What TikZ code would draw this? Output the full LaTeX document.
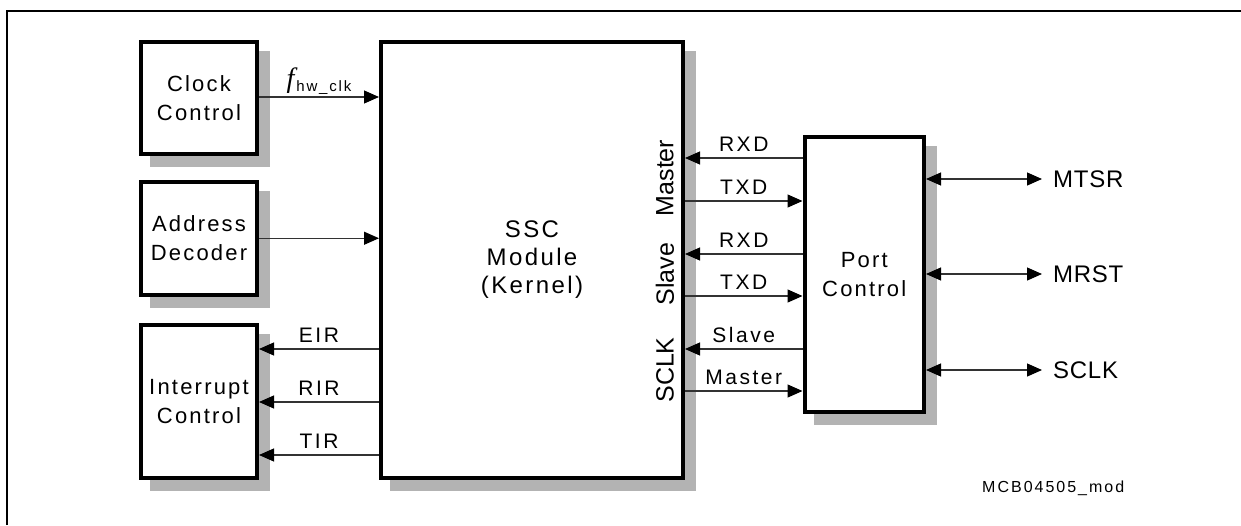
\documentclass[tikz,border=0pt]{standalone}
\usepackage{fontspec}
\setmainfont{Liberation Sans}
\newfontfamily\boxfont{Liberation Sans}[LetterSpace=10]
\newfontfamily\sigfont{Liberation Sans}[LetterSpace=12]
\newfontfamily\pinfont{Liberation Sans}[LetterSpace=3]
\newfontfamily\codefont{Liberation Sans}[LetterSpace=12.5]
\newfontfamily\italfont{Liberation Serif}
\usetikzlibrary{arrows.meta,shadows}
\definecolor{shadowgray}{RGB}{179,179,179}
\definecolor{wiregray}{RGB}{50,50,50}
\begin{document}
\begin{tikzpicture}[x=1pt,y=-1pt,>={Triangle[length=15pt,width=13pt,color=black]},
  blk/.style={draw,line width=4pt,fill=white,inner sep=0pt,align=center,
    font=\boxfont\fontsize{22}{29}\selectfont,
    drop shadow={shadow xshift=11pt,shadow yshift=-11pt,fill=shadowgray,
      draw=shadowgray,line width=4pt,opacity=1}},
  wire/.style={draw=wiregray,line width=1.2pt},
  sig/.style={midway,anchor=base,yshift=7pt,inner sep=0pt,
    font=\sigfont\fontsize{21}{21}\selectfont},
  side/.style={rotate=90,inner sep=0pt,font=\fontsize{25}{25}\selectfont},
  pin/.style={anchor=west,inner xsep=11pt,inner ysep=0pt,
    font=\pinfont\fontsize{24}{24}\selectfont}]
  \useasboundingbox (0,0) rectangle (1241,525);
  % frame
  \draw[line width=2.3pt] (7,525) -- (7,11) -- (1241,11);
  % blocks
  \node[blk,minimum width=116pt,minimum height=112.5pt] (clock) at (199,97.75) {Clock\\Control};
  \node[blk,minimum width=116pt,minimum height=112.5pt] (addr) at (199,238.25) {Address\\Decoder};
  \node[blk,minimum width=116pt,minimum height=153pt] (intr) at (199,401.5) {Interrupt\\Control};
  \node[blk,minimum width=302pt,minimum height=436pt,
    font=\boxfont\fontsize{24}{28}\selectfont] (ssc) at (532,260) {SSC\\Module\\(Kernel)};
  \node[blk,minimum width=119.5pt,minimum height=275.5pt] (port) at (864.25,274.25) {Port\\Control};
  % inputs of the kernel
  \draw[wire,->] (clock.east |- 0,97) -- (ssc.west |- 0,97)
    node[midway,anchor=base,yshift=10pt,inner sep=0pt] {{\italfont\itshape\fontsize{28}{28}\selectfont f}\kern2pt{\sigfont\fontsize{15}{15}\selectfont\raisebox{-4pt}{hw\_clk}}};
  \draw[wire,->] (addr.east) -- (addr.east -| ssc.west);
  % interrupt requests
  \foreach \yy/\lab in {349/EIR,402/RIR,455/TIR}
    \draw[wire,->] (ssc.west |- 0,\yy) -- (intr.east |- 0,\yy) node[sig] {\lab};
  % kernel <-> port control
  \foreach \yy/\lab in {158/RXD,254/RXD,349/Slave}
    \draw[wire,<-] (ssc.east |- 0,\yy) -- (port.west |- 0,\yy) node[sig] {\lab};
  \foreach \yy/\lab in {201/TXD,296/TXD,391/Master}
    \draw[wire,->] (ssc.east |- 0,\yy) -- (port.west |- 0,\yy) node[sig] {\lab};
  \node[side] (lblmaster) at (665,178) {Master};
  \node[side] (lblslave) at (665,274) {Slave};
  \node[side] (lblsclk) at (665,370) {SCLK};
  % pins
  \foreach \yy/\lab in {179/MTSR,274/MRST,370/SCLK}{
    \node[pin] (pin\lab) at (1042,\yy) {\lab};
    \draw[wire,<->] (port.east |- pin\lab) -- (pin\lab.west);
  }
  \node[anchor=base west,inner sep=0pt,font=\codefont\fontsize{16}{16}\selectfont]
    (code) at (982,492) {MCB04505\_mod};
\end{tikzpicture}
\end{document}
